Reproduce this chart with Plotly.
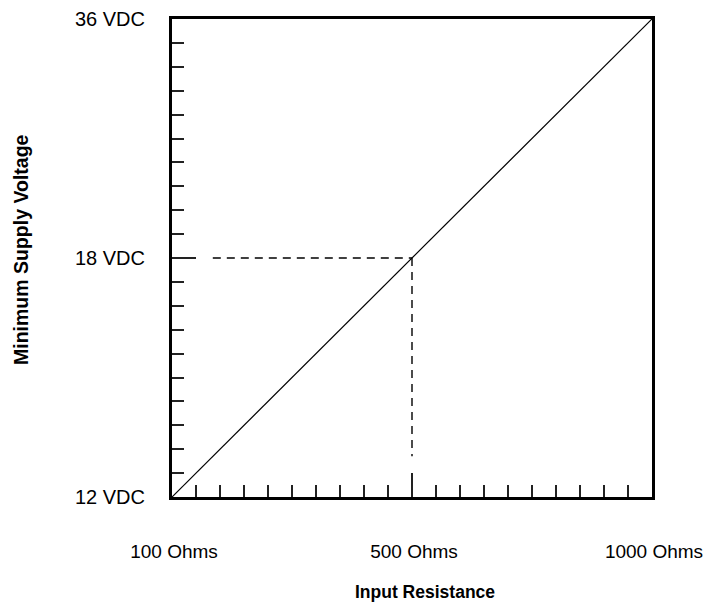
import plotly.graph_objects as go

# Axis positions are in grid units (20 minor divisions per axis)
x_tick_pos = [0, 10, 20]
x_tick_labels = ["100 Ohms", "500 Ohms", "1000 Ohms"]
y_tick_pos = [0, 10, 20]
y_tick_labels = ["12 VDC", "18 VDC", "36 VDC"]

line_x = [0, 20]
line_y = [0, 20]

dash_h_x = [1.7, 10]
dash_h_y = [10, 10]
dash_v_x = [10, 10]
dash_v_y = [10, 1.7]

FONT = "Liberation Sans, Arial, sans-serif"

fig = go.Figure()
fig.add_trace(go.Scatter(x=line_x, y=line_y, mode="lines",
                         line=dict(color="black", width=1.2), showlegend=False))
fig.add_trace(go.Scatter(x=dash_h_x, y=dash_h_y, mode="lines",
                         line=dict(color="black", width=1.4, dash="8px,6px"), showlegend=False))
fig.add_trace(go.Scatter(x=dash_v_x, y=dash_v_y, mode="lines",
                         line=dict(color="black", width=1.4, dash="8px,6px"), showlegend=False))

axis_common = dict(
    showgrid=False, zeroline=False, automargin=False,
    showline=True, linecolor="black", linewidth=3, mirror=True,
    ticks="inside", ticklen=24, tickwidth=1.5, tickcolor="#222",
    minor=dict(ticks="inside", ticklen=12, tickwidth=1.5, tickcolor="#222", dtick=1, showgrid=False),
)

fig.update_xaxes(range=[0, 20], tickmode="array", tickvals=x_tick_pos, ticktext=x_tick_labels,
                 ticklabelstandoff=35, ticklabelshift=2,
                 tickfont=dict(family=FONT, size=19, color="black"), **axis_common)
fig.update_yaxes(range=[0, 20], tickmode="array", tickvals=y_tick_pos, ticktext=y_tick_labels,
                 ticklabelstandoff=20,
                 tickfont=dict(family=FONT, size=20, color="black"), **axis_common)

fig.add_annotation(text="<b>Input Resistance</b>", xref="paper", yref="paper",
                   x=0.5, y=0, xanchor="center", yanchor="middle", showarrow=False,
                   xshift=13, yshift=-95,
                   font=dict(family=FONT, size=17.5, color="black"))
fig.add_annotation(text="<b>Minimum Supply Voltage</b>", xref="paper", yref="paper",
                   x=0, y=0.5, xanchor="center", yanchor="middle", showarrow=False,
                   textangle=-90, xshift=-151, yshift=8,
                   font=dict(family=FONT, size=19.5, color="black"))

# page body has an 8px default margin, so the figure is 8px smaller than the window
fig.update_layout(
    width=704, height=596,
    margin=dict(l=164, r=60, t=11, b=107, autoexpand=False),
    plot_bgcolor="white", paper_bgcolor="white",
)

fig.write_html("out.html")
